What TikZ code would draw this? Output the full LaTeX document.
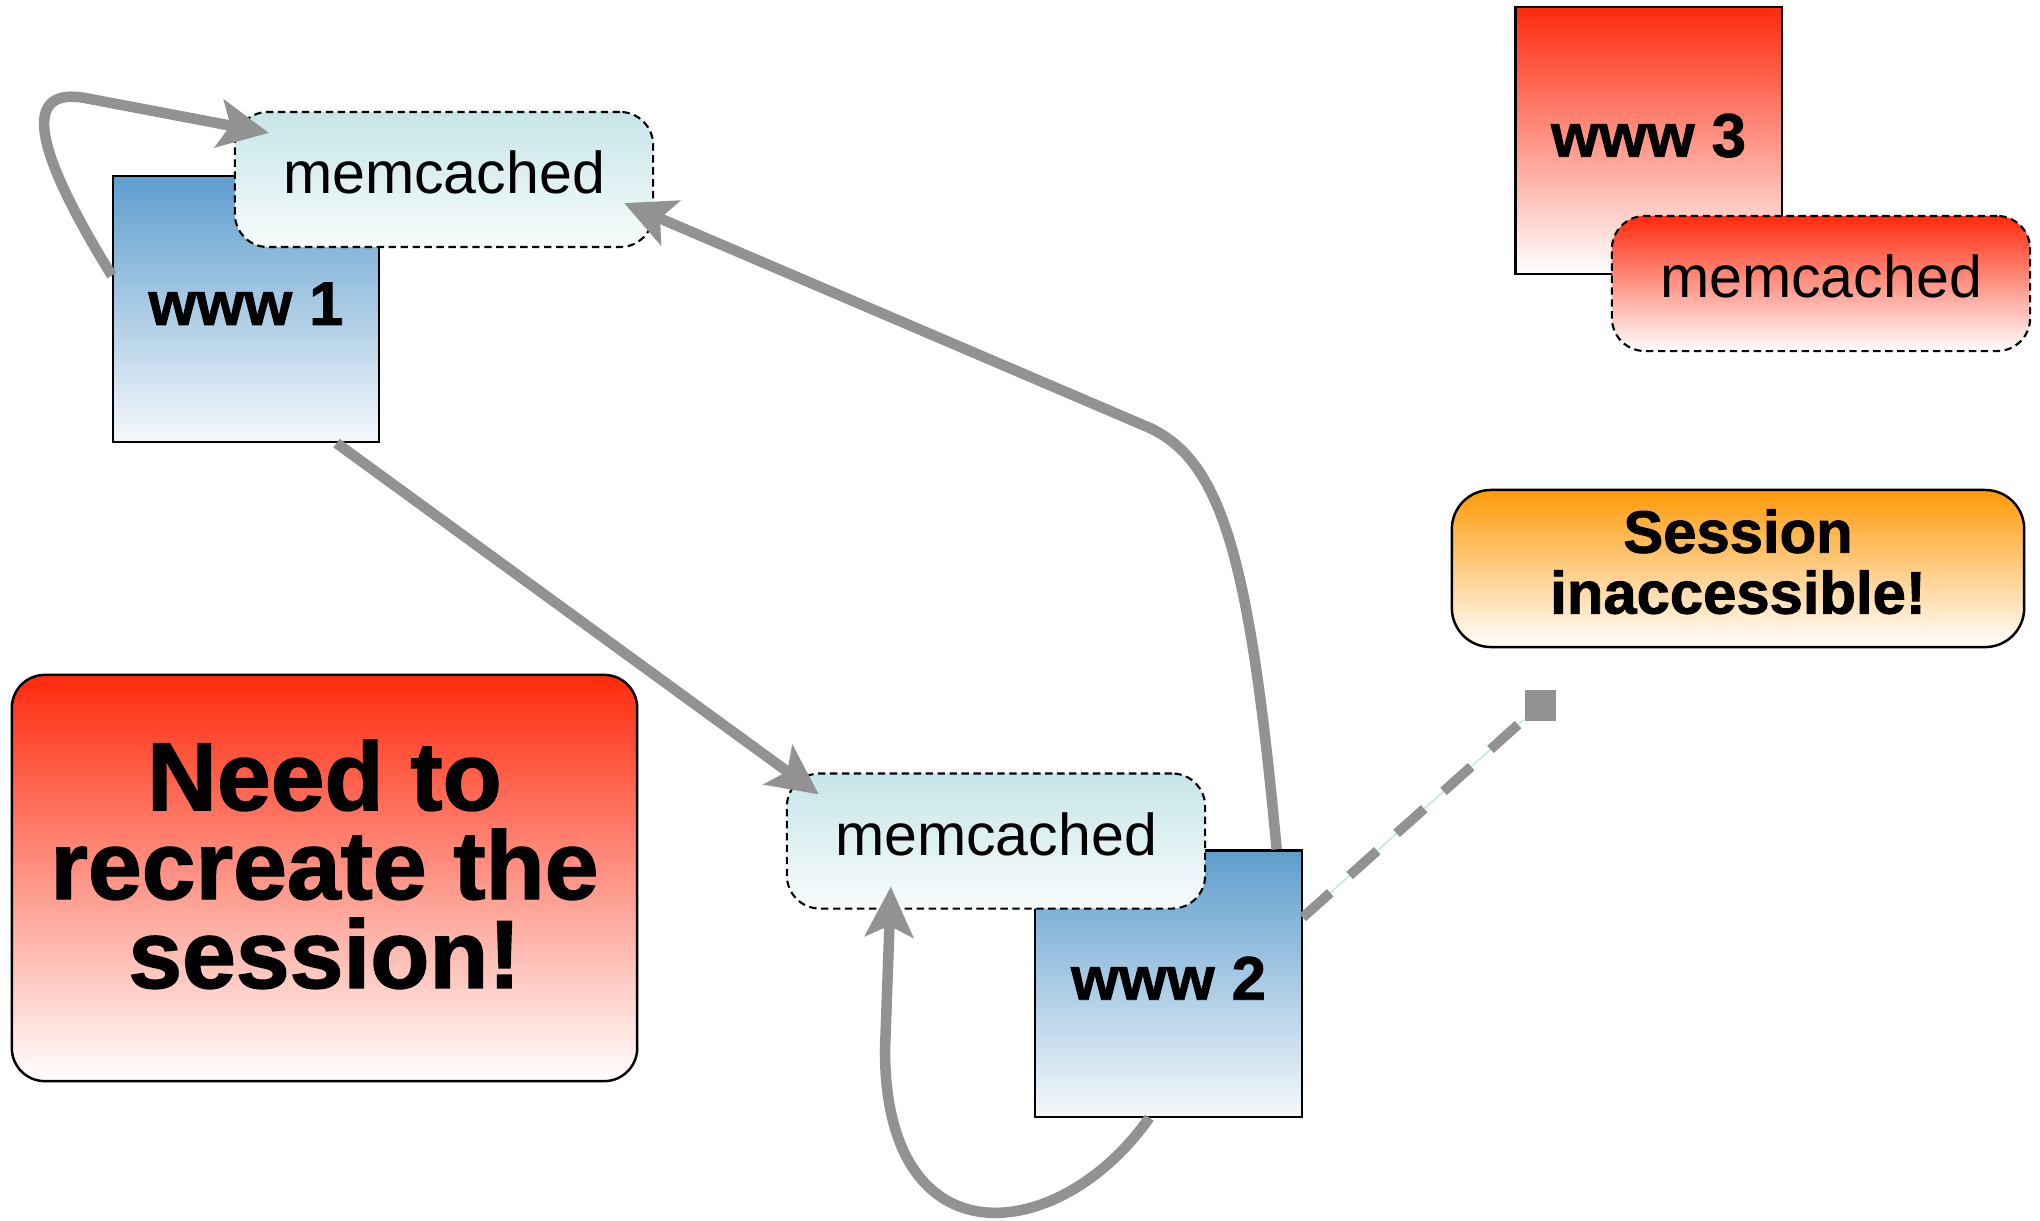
\documentclass[tikz,border=0pt]{standalone}
\usepackage{fontspec}
\setmainfont{Liberation Sans}
\newfontfamily\heavyfont[FakeBold=1.5]{Liberation Sans Bold}
\usetikzlibrary{arrows.meta}
\definecolor{wwwblue}{HTML}{5E9ECD}
\definecolor{wwwwhite}{HTML}{F5F8FC}
\definecolor{cachecyan}{HTML}{C6E5E8}
\definecolor{cachewhite}{HTML}{F8FCFC}
\definecolor{alertred}{HTML}{FF2A0D}
\definecolor{alertorange}{HTML}{FF9A0A}
\definecolor{linkgray}{HTML}{929292}
\definecolor{threadcyan}{HTML}{BFE4EA}
\begin{document}
\begin{tikzpicture}[x=0.01cm, y=-0.01cm,
    server/.style={draw, line width=0.6pt, inner sep=0pt, minimum width=2.66cm, minimum height=2.66cm,
      top color=wwwblue, bottom color=wwwwhite, text depth=3pt, font=\heavyfont\fontsize{17.5}{20}\selectfont},
    cache/.style={draw, dash pattern=on 2.1pt off 1.3pt, line width=0.6pt, rounded corners=0.33cm, inner sep=0pt,
      minimum width=4.18cm, minimum height=1.35cm, top color=cachecyan, bottom color=cachewhite,
      text depth=4pt, font=\fontsize{16.8}{20}\selectfont},
    alertbox/.style={draw, line width=0.7pt, inner sep=0pt, align=center},
    link/.style={draw=linkgray, line width=3pt, -{Stealth[length=0.5cm, width=0.48cm, inset=0.11cm]}},
  ]
    \useasboundingbox (0,0) rectangle (2040,1220);
    \node[server] (www1) at (246,309) {www 1};
    \node[cache] (cache1) at (444,179.5) {memcached};
    \node[server] (www2) at (1168.5,983.5) {www 2};
    \node[cache] (cache2) at (996,841) {memcached};
    \node[server, top color=alertred, bottom color=white] (www3) at (1648.5,140.5) {www 3};
    \node[cache, top color=alertred, bottom color=white] (cache3) at (1821,283.5) {memcached};
    \node[alertbox, minimum width=5.72cm, minimum height=1.57cm, rounded corners=0.39cm, text depth=4pt,
      top color=alertorange, bottom color=white, font=\heavyfont\fontsize{17}{17.3}\selectfont]
      (lost) at (1738,568.5) {Session\\inaccessible!};
    \node[alertbox, minimum width=6.25cm, minimum height=4.06cm, rounded corners=0.33cm, text depth=8pt,
      top color=alertred, bottom color=white, font=\heavyfont\fontsize{27.5}{25.3}\selectfont]
      (recreate) at (324.5,878) {Need to\\recreate the\\session!};
    \draw[link] (www1.166) .. controls (25,135) and (28,88) .. (85,98) -- ([shift={(35,22)}]cache1.north west);
    \draw[link] (www1.-56) -- ([shift={(33,22)}]cache2.north west);
    \draw[link] ([shift={(-26,0)}]www2.north east) .. controls (1250,560) and (1222,462) .. (1150,428)
      -- ([shift={(-30,-45)}]cache1.south east);
    \draw[link] ([shift={(115,0)}]www2.south west) .. controls (1060,1245) and (885,1265) .. (885,1050)
      -- ([shift={(105,-23)}]cache2.south west);
    \node[fill=linkgray, minimum size=0.31cm, inner sep=0pt] (gone) at (1540,705) {};
    \draw[threadcyan, line width=0.4pt] ([shift={(0,-66)}]www2.east) -- (gone);
    \draw[linkgray, line width=2.8pt, dash pattern=on 0.37cm off 0.26cm] ([shift={(0,-66)}]www2.east) -- (gone);
\end{tikzpicture}
\end{document}
